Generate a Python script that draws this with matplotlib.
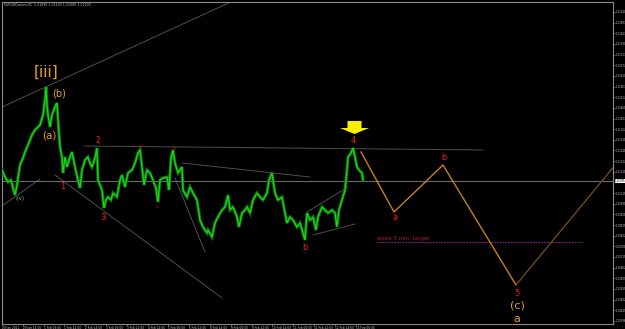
import numpy as np
import matplotlib
matplotlib.use("Agg")
import matplotlib.pyplot as plt
from matplotlib.path import Path
from matplotlib.ticker import FormatStrFormatter
import matplotlib.transforms as mtransforms

# ---------------- data ----------------
bars = [2, 5, 8, 11, 13, 15, 17, 20, 23, 25,
        28, 30, 32, 35, 38, 40, 43, 45, 46, 47,
        48, 50, 52, 55, 57, 58, 60, 62, 63, 65,
        67, 70, 72, 75, 78, 80, 82, 85, 88, 90,
        92, 95, 97, 98, 100, 102, 104, 106, 108, 111,
        113, 117, 120, 122, 125, 128, 132, 135, 138, 140,
        142, 144, 147, 150, 153, 156, 158, 160, 163, 167,
        169, 171, 173, 175, 178, 182, 183, 187, 190, 193,
        197, 200, 203, 207, 208, 212, 215, 218, 222, 225,
        228, 230, 233, 237, 239, 242, 245, 247, 250, 253,
        257, 260, 263, 267, 269, 272, 273, 275, 278, 282,
        285, 287, 290, 293, 297, 300, 303, 305, 307, 310,
        313, 316, 318, 322, 325, 328, 332, 335, 337, 339,
        342, 345, 347, 348, 351, 353, 355, 357, 359, 362,
        363]
prices = [1.21150, 1.21115, 1.21090, 1.21100, 1.21060, 1.21025, 1.21075, 1.21175, 1.21210, 1.21240,
          1.21275, 1.21300, 1.21325, 1.21350, 1.21365, 1.21375, 1.21425, 1.21500, 1.21565, 1.21475,
          1.21425, 1.21365, 1.21425, 1.21465, 1.21485, 1.21400, 1.21265, 1.21215, 1.21135, 1.21215,
          1.21165, 1.21215, 1.21240, 1.21165, 1.21100, 1.21060, 1.21150, 1.21200, 1.21215, 1.21185,
          1.21165, 1.21210, 1.21260, 1.21100, 1.21075, 1.21050, 1.20960, 1.21000, 1.21015, 1.21000,
          1.21035, 1.21015, 1.21100, 1.21125, 1.21065, 1.21135, 1.21150, 1.21185, 1.21235, 1.21250,
          1.21165, 1.21075, 1.21150, 1.21135, 1.21100, 1.21060, 1.20990, 1.21100, 1.21110, 1.21115,
          1.21050, 1.21210, 1.21250, 1.21185, 1.21135, 1.21165, 1.21050, 1.21015, 1.21065, 1.21035,
          1.21000, 1.20900, 1.20865, 1.20835, 1.20850, 1.20815, 1.20885, 1.20915, 1.20950, 1.20965,
          1.21025, 1.20950, 1.20965, 1.20915, 1.20865, 1.20935, 1.20950, 1.20965, 1.20935, 1.21000,
          1.21035, 1.21015, 1.21000, 1.21035, 1.21100, 1.21135, 1.21100, 1.21035, 1.21000, 1.21015,
          1.20935, 1.20885, 1.20915, 1.20900, 1.20865, 1.20885, 1.20835, 1.20800, 1.20935, 1.20900,
          1.20915, 1.20850, 1.20915, 1.20965, 1.20950, 1.20935, 1.20950, 1.20935, 1.20865, 1.20950,
          1.21000, 1.21050, 1.21150, 1.21215, 1.21235, 1.21260, 1.21215, 1.21165, 1.21150, 1.21135,
          1.21100]

current_price = 1.21095

# projected path (orange)
proj_bars = [361, 394, 443, 516]
proj_prices = [1.21240, 1.20940, 1.21175, 1.20575]
proj_end_bar = 616
proj_end_price = 1.21180

# grey trendlines: (bar0, price0, bar1, price1)
trend_lines = [
    (2, 1.21465, 235, 1.22000),
    (85, 1.21270, 483, 1.21250),
    (182, 1.21185, 310, 1.21115),
    (2, 1.20970, 40, 1.21105),
    (55, 1.21125, 222, 1.20510),
    (175, 1.21110, 205, 1.20740),
    (307, 1.20940, 348, 1.21065),
    (313, 1.20825, 355, 1.20880),
]

target_bars = [377, 583]
target_price = 1.20790
target_label = "wave 5 min. target"

# wave labels: (text, bar, price, color, size)
labels = [
    ("[iii]", 46, 1.21640, "#e8a020", 11),
    ("(b)", 59, 1.21530, "#e8a020", 7),
    ("(a)", 49, 1.21325, "#e8a020", 7.5),
    ("2", 98, 1.21295, "#ff1a1a", 5.5),
    ("1", 63, 1.21065, "#ff1a1a", 6),
    ("3", 103, 1.20910, "#ff1a1a", 6.5),
    ("(iv)", 20, 1.21005, "#a0a0a0", 4),
    ("a", 140, 1.21270, "#dd0000", 3.5),
    ("c", 157, 1.20965, "#dd0000", 3.5),
    ("e", 174, 1.21260, "#dd0000", 3.5),
    ("b", 305, 1.20765, "#ff1a1a", 6),
    ("4", 353, 1.21295, "#ff1a1a", 6),
    ("a", 395, 1.20910, "#ff1a1a", 6),
    ("b", 444, 1.21210, "#ff1a1a", 6),
    ("5", 517, 1.20535, "#ff1a1a", 6),
    ("(c)", 517, 1.20470, "#e8a020", 8),
    ("a", 517, 1.20405, "#e8a020", 8),
]

arrow_bar = 353.5
arrow_price = 1.21367

x_labels = ["28 Jan 2021", "29 Jan 14:00", "1 Feb 06:00", "1 Feb 22:00", "2 Feb 14:00",
            "3 Feb 06:00", "3 Feb 22:00", "4 Feb 14:00", "5 Feb 06:00", "5 Feb 22:00",
            "8 Feb 14:00", "9 Feb 06:00", "9 Feb 22:00", "10 Feb 14:00", "11 Feb 06:00",
            "11 Feb 22:00", "12 Feb 14:00", "15 Feb 06:00"]

header = "EURUSDmicro,H1  1.21095 1.21120 1.21080 1.21100"

# ---------------- figure ----------------
fig = plt.figure(figsize=(6.25, 3.29), dpi=100, facecolor="black")
ax = fig.add_axes([2 / 625, 5 / 329, 611 / 625, 322 / 329])
ax.set_facecolor("black")
ax.set_xlim(2, 613)
ax.set_ylim(1.20380, 1.21990)

for s in ax.spines.values():
    s.set_color("#8a8a8a")
    s.set_linewidth(0.8)

# trendlines
for b0, p0, b1, p1 in trend_lines:
    ax.plot([b0, b1], [p0, p1], color="#4e4e4e", lw=0.7, zorder=2)

# current price line
ax.axhline(current_price, color="#6a6a6a", lw=0.8, zorder=2)

# target line
ax.plot(target_bars, [target_price, target_price], color="#8a1a8a", lw=0.8,
        ls=(0, (1.5, 1)), zorder=2)
ax.text(target_bars[0], target_price + 0.00003, target_label, color="#b81838",
        fontsize=4, ha="left", va="bottom", zorder=5)

# price series (dark body + bright bars)
ax.plot(bars, prices, color="#087808", lw=2.2, zorder=3, solid_joinstyle="miter")
ax.plot(bars, prices, color="#1ed21e", lw=0.9, zorder=3, solid_joinstyle="miter")

# projection
ax.plot(proj_bars, proj_prices, color="#c8801e", lw=1.0, zorder=3)
ax.plot([proj_bars[-1], proj_end_bar], [proj_prices[-1], proj_end_price],
        color="#6e4a18", lw=1.0, zorder=3)

# labels
for txt, b, p, c, fs in labels:
    ax.text(b, p, txt, color=c, fontsize=fs, ha="center", va="center", zorder=6)

# yellow arrow marker
verts = [(-7, 6.5), (7, 6.5), (7, -0.5), (14.5, -0.5), (0, -6.5),
         (-14.5, -0.5), (-7, -0.5), (-7, 6.5)]
codes = [Path.MOVETO] + [Path.LINETO] * 6 + [Path.CLOSEPOLY]
arrow_marker = Path(verts, codes)
ax.plot([arrow_bar], [arrow_price], marker=arrow_marker, markersize=21,
        color="#f5f000", markeredgewidth=0, ls="none", zorder=7)

# axes ticks
ax.yaxis.tick_right()
yt = np.arange(1.21940, 1.20385, -0.0005325)
yt = yt[np.abs(yt - current_price) > 0.0002]
ax.set_yticks(yt)
ax.yaxis.set_major_formatter(FormatStrFormatter("%.5f"))
ax.tick_params(axis="y", colors="#8a8a8a", labelcolor="#c0c0c0", labelsize=1.9,
               length=1.2, width=0.5, pad=0.5)
xt = 2 + 20.8 * np.arange(len(x_labels))
ax.set_xticks(xt)
ax.set_xticklabels(x_labels, ha="left")
ax.tick_params(axis="x", colors="#8a8a8a", labelcolor="#c0c0c0", labelsize=2.1,
               length=1.2, width=0.5, pad=0.2)

# current price box
trans = mtransforms.blended_transform_factory(ax.transAxes, ax.transData)
ax.text(1.003, current_price, f"{current_price:.5f}", transform=trans, fontsize=1.9,
        color="black", ha="left", va="center",
        bbox=dict(facecolor="white", edgecolor="none", pad=0.2), zorder=8, clip_on=False)

# header
ax.text(0.004, 0.997, header, transform=ax.transAxes, fontsize=2.3, color="#c0c0c0",
        ha="left", va="top")

fig.savefig("out.png", dpi=100, facecolor="black")
